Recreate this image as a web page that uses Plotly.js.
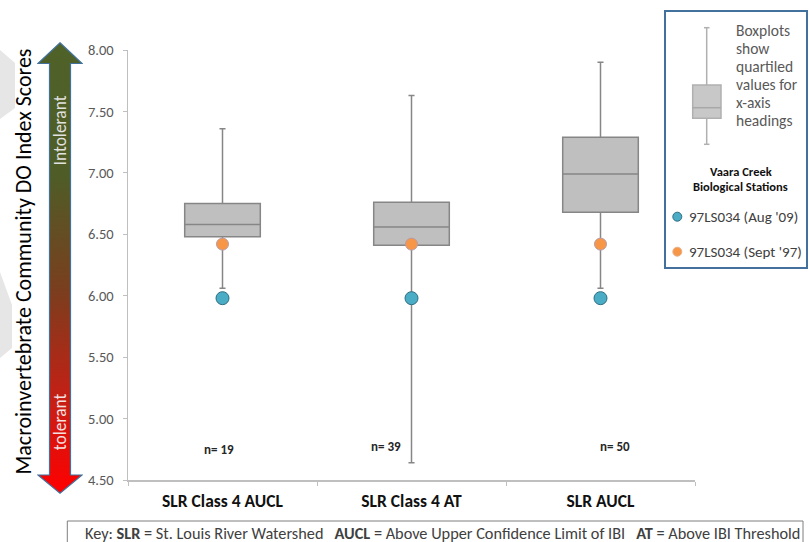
<!DOCTYPE html>
<html><head><meta charset="utf-8">
<script src="https://cdn.plot.ly/plotly-3.0.1.min.js"></script>
<style>html,body{margin:0;padding:0;background:#fff}#chart{width:809px;height:542px}</style>
</head><body><div id="chart"></div>
<script>
// ---- data ----
const categories = ['SLR Class 4 AUCL', 'SLR Class 4 AT', 'SLR AUCL'];
const lowerWhisker = [6.06, 4.64, 6.06];
const q1Values = [6.48, 6.41, 6.68];
const medianValues = [6.58, 6.56, 6.99];
const q3Values = [6.75, 6.76, 7.29];
const upperWhisker = [7.36, 7.63, 7.90];
const sampleSizes = [19, 39, 50];
const station2009 = [5.98, 5.98, 5.98];   // 97LS034 (Aug '09)
const station1997 = [6.42, 6.42, 6.42];   // 97LS034 (Sept '97)
const yTickValues = [4.5, 5.0, 5.5, 6.0, 6.5, 7.0, 7.5, 8.0];
const seriesNames = ["97LS034 (Aug '09)", "97LS034 (Sept '97)"];
const boxNoteLines = ['Boxplots', 'show', 'quartiled', 'values for', 'x-axis', 'headings'];
const stationTitleLines = ['Vaara Creek', 'Biological Stations'];

// ---- layout geometry (pixels) ----
const W = 809, H = 542, L = 128, R = 695, T = 50, B = 480;
const px = x => (x - L) / (R - L);
const py = y => (B - y) / (B - T);
const F = 'Carlito, Calibri, Lato, "Open Sans", sans-serif';
const BLUE = '#4BACC6', ORANGE = '#F79646';

const traces = [
  {
    type: 'box', x: categories,
    q1: q1Values, median: medianValues, q3: q3Values,
    lowerfence: lowerWhisker, upperfence: upperWhisker,
    fillcolor: '#BFBFBF', line: {color: '#868686', width: 1.5},
    whiskerwidth: 0.08, width: 0.4, boxpoints: false,
    showlegend: false, hoverinfo: 'y'
  },
  {
    type: 'scatter', mode: 'markers', x: categories, y: station1997, name: seriesNames[1],
    marker: {size: 12, color: ORANGE, line: {color: '#B99AA6', width: 1}}, showlegend: false
  },
  {
    type: 'scatter', mode: 'markers', x: categories, y: station2009, name: seriesNames[0],
    marker: {size: 13, color: BLUE, line: {color: '#2F6F82', width: 1}}, showlegend: false
  }
];

// arrow gradient graphic
const arrowSvg = "<svg xmlns='http://www.w3.org/2000/svg' width='46' height='452' viewBox='0 0 46 452'>" +
  "<defs><linearGradient id='g' x1='0' y1='0' x2='0' y2='1'>" +
  "<stop offset='0' stop-color='#4F6228'/><stop offset='0.3' stop-color='#4F5C27'/>" +
  "<stop offset='0.55' stop-color='#7A3E1E'/><stop offset='0.8' stop-color='#C81E14'/>" +
  "<stop offset='1' stop-color='#FF0000'/></linearGradient></defs>" +
  "<polygon points='23,0.8 45,21.5 33.5,21.5 33.5,433 45,433 23,451.2 1,433 12.5,433 12.5,21.5 1,21.5' " +
  "fill='url(#g)' stroke='#41719C' stroke-width='1.2'/></svg>";

const shapes = [
  // faint background chevrons
  {type: 'path', xref: 'paper', yref: 'paper', layer: 'below', line: {width: 0}, fillcolor: '#E6E6E6',
   path: `M${px(0)},${py(50)} L${px(15)},${py(63)} L${px(15)},${py(108)} L${px(0)},${py(119)} Z`},
  {type: 'path', xref: 'paper', yref: 'paper', layer: 'below', line: {width: 0}, fillcolor: '#E6E6E6',
   path: `M${px(0)},${py(272)} L${px(12)},${py(305)} L${px(12)},${py(348)} L${px(0)},${py(358)} Z`},
  // legend frame
  {type: 'rect', xref: 'paper', yref: 'paper', x0: px(665), x1: px(807), y0: py(11), y1: py(268),
   line: {color: '#41719C', width: 2}, fillcolor: 'white', layer: 'above'},
  // legend icon: box plot
  {type: 'line', xref: 'paper', yref: 'paper', x0: px(706.7), x1: px(706.7), y0: py(27.7), y1: py(85), line: {color: '#B0B0B0', width: 1.5}},
  {type: 'line', xref: 'paper', yref: 'paper', x0: px(706.7), x1: px(706.7), y0: py(118.3), y1: py(144.3), line: {color: '#B0B0B0', width: 1.5}},
  {type: 'line', xref: 'paper', yref: 'paper', x0: px(704), x1: px(709.5), y0: py(27.7), y1: py(27.7), line: {color: '#B0B0B0', width: 1.5}},
  {type: 'line', xref: 'paper', yref: 'paper', x0: px(704), x1: px(709.5), y0: py(144.3), y1: py(144.3), line: {color: '#B0B0B0', width: 1.5}},
  {type: 'rect', xref: 'paper', yref: 'paper', x0: px(692.7), x1: px(721), y0: py(85), y1: py(118.3), fillcolor: '#C8C8C8', line: {color: '#B0B0B0', width: 1.5}},
  {type: 'line', xref: 'paper', yref: 'paper', x0: px(692.7), x1: px(721), y0: py(107.7), y1: py(107.7), line: {color: '#A8A8A8', width: 1.5}},
  // legend markers
  {type: 'circle', xref: 'paper', yref: 'paper', xsizemode: 'pixel', ysizemode: 'pixel',
   xanchor: px(677.3), yanchor: py(216.7), x0: -4.5, x1: 4.5, y0: -4.5, y1: 4.5, fillcolor: BLUE, line: {color: '#2F6F82', width: 1}},
  {type: 'circle', xref: 'paper', yref: 'paper', xsizemode: 'pixel', ysizemode: 'pixel',
   xanchor: px(677.3), yanchor: py(251.7), x0: -4.5, x1: 4.5, y0: -4.5, y1: 4.5, fillcolor: ORANGE, line: {color: '#E8B08A', width: 1}},
  // key box
  {type: 'rect', xref: 'paper', yref: 'paper', x0: px(67.3), x1: px(803), y0: py(521), y1: py(550),
   line: {color: '#7F7F7F', width: 1}, fillcolor: 'rgba(0,0,0,0)'}
];

const annotations = [
  {xref: 'paper', yref: 'paper', x: px(23), y: py(261.5), xanchor: 'center', yanchor: 'middle', textangle: -90, showarrow: false,
   text: 'Macroinvertebrate Community DO Index Scores', font: {family: F, size: 22, color: '#000'}},
  {xref: 'paper', yref: 'paper', x: px(59.5), y: py(131), xanchor: 'center', yanchor: 'middle', textangle: -90, showarrow: false,
   text: 'Intolerant', font: {family: F, size: 17.5, color: '#E2E2E2'}},
  {xref: 'paper', yref: 'paper', x: px(59.5), y: py(421.7), xanchor: 'center', yanchor: 'middle', textangle: -90, showarrow: false,
   text: 'tolerant', font: {family: F, size: 17.5, color: '#F4E2E2'}},
  {xref: 'paper', yref: 'paper', x: px(686.5), y: py(216.7), xanchor: 'left', yanchor: 'middle', showarrow: false,
   text: seriesNames[0], font: {family: F, size: 15, color: '#404040'}},
  {xref: 'paper', yref: 'paper', x: px(686.5), y: py(251.7), xanchor: 'left', yanchor: 'middle', showarrow: false,
   text: seriesNames[1], font: {family: F, size: 15, color: '#404040'}},
  {xref: 'paper', yref: 'paper', x: px(442), y: py(533.3), xanchor: 'center', yanchor: 'middle', showarrow: false,
   text: 'Key: <b>SLR</b> = St. Louis River Watershed\u00A0\u00A0\u00A0<b>AUCL</b> = Above Upper Confidence Limit of IBI\u00A0\u00A0\u00A0<b>AT</b> = Above IBI Threshold',
   font: {family: F, size: 16.3, color: '#404040'}}
];
boxNoteLines.forEach((t, i) => annotations.push({
  xref: 'paper', yref: 'paper', x: px(734), y: py(30.7 + i * 18), xanchor: 'left', yanchor: 'middle', showarrow: false,
  text: t, font: {family: F, size: 15.5, color: '#595959'}
}));
stationTitleLines.forEach((t, i) => annotations.push({
  xref: 'paper', yref: 'paper', x: px(740.5), y: py(171.2 + i * 15.5), xanchor: 'center', yanchor: 'middle', showarrow: false,
  borderpad: 0, text: '<b>' + t + '</b>', font: {family: F, size: 12.5, color: '#111'}
}));
const nShift = [-4, -26, 14];
const nY = [4.752, 4.771, 4.771];
categories.forEach((c, i) => annotations.push({
  xref: 'x', yref: 'y', x: c, y: nY[i], xshift: nShift[i], showarrow: false,
  text: '<b>n= ' + sampleSizes[i] + '</b>', font: {family: F, size: 13, color: '#262626'}
}));

const layout = {
  width: W, height: H,
  margin: {l: L, r: W - R, t: T, b: H - B, pad: 0},
  paper_bgcolor: '#fff', plot_bgcolor: '#fff',
  font: {family: F},
  showlegend: false,
  xaxis: {
    type: 'category', range: [-0.5, 2.5], showline: true, linecolor: '#BFBFBF', linewidth: 1.5,
    ticks: 'outside', tickson: 'boundaries', ticklen: 4, tickcolor: '#BFBFBF', tickwidth: 1,
    tickfont: {family: F, size: 17.5, color: '#111', weight: 'bold'}, ticklabelstandoff: 4,
    showgrid: false, zeroline: false
  },
  yaxis: {
    range: [4.5, 8.0], tickvals: yTickValues, tickformat: '.2f', showline: true, linecolor: '#BFBFBF', linewidth: 1.5,
    ticks: 'outside', ticklen: 4, tickcolor: '#BFBFBF', tickwidth: 1,
    tickfont: {family: F, size: 14.5, color: '#595959'}, ticklabelstandoff: 6,
    showgrid: false, zeroline: false
  },
  shapes: shapes,
  annotations: annotations,
  images: [{
    source: 'data:image/svg+xml;charset=utf-8,' + encodeURIComponent(arrowSvg),
    xref: 'paper', yref: 'paper', x: px(37), y: py(42), sizex: 46 / (R - L), sizey: 452 / (B - T),
    xanchor: 'left', yanchor: 'top', sizing: 'stretch', layer: 'below'
  }]
};

Plotly.newPlot('chart', traces, layout, {displayModeBar: false, staticPlot: true});
</script>
</body></html>
